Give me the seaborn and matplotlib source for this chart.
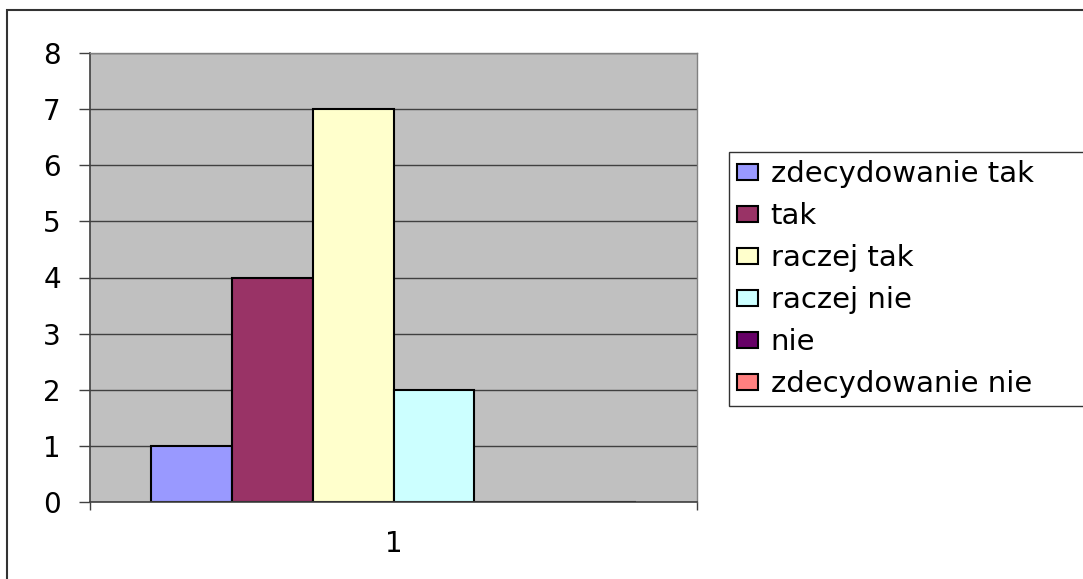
import matplotlib
matplotlib.use("Agg")
import matplotlib.pyplot as plt
import seaborn as sns
import pandas as pd
from matplotlib.patches import Rectangle

categories = ["1"]
series = ["zdecydowanie tak", "tak", "raczej tak", "raczej nie", "nie", "zdecydowanie nie"]
values = [1, 4, 7, 2, 0, 0]
colors = ["#9999FF", "#993366", "#FFFFCC", "#CCFFFF", "#660066", "#FF8080"]
yticks = [0, 1, 2, 3, 4, 5, 6, 7, 8]

df = pd.DataFrame({"cat": categories * len(series), "series": series, "value": values})

sns.set_style("white")
plt.rcParams["font.family"] = ["DejaVu Sans"]
plt.rcParams["text.color"] = "black"
plt.rcParams["xtick.color"] = "black"
plt.rcParams["ytick.color"] = "black"

W, H = 1083, 579
fig = plt.figure(figsize=(W / 100, H / 100), dpi=100)
ax = fig.add_axes([90 / W, 1 - 502 / H, (697 - 90) / W, (502 - 53) / H])

sns.barplot(data=df, x="cat", y="value", hue="series", hue_order=series,
            palette=colors, ax=ax, width=0.8, edgecolor="black", linewidth=1.5,
            saturation=1, legend=True)

ax.set_facecolor("#C0C0C0")
ax.set_ylim(0, 8)
ax.set_xlim(-0.5, 0.5)
ax.set_yticks(yticks)
ax.set_yticklabels([str(t) for t in yticks])
ax.yaxis.grid(True, color="#404040", linewidth=1)
ax.set_axisbelow(True)
ax.set_xlabel("")
ax.set_ylabel("")

for s in ["top", "right"]:
    ax.spines[s].set_color("#808080")
    ax.spines[s].set_linewidth(1)
for s in ["left", "bottom"]:
    ax.spines[s].set_color("#404040")
    ax.spines[s].set_linewidth(1.2)

ax.tick_params(axis="y", direction="out", length=8, width=1, color="#404040",
               labelcolor="black", labelsize=20, pad=13, left=True)
ax.set_xticks([0])
ax.set_xticklabels(categories)
ax.tick_params(axis="x", which="major", length=0, labelsize=20, pad=20,
               labelcolor="black")
ax.set_xticks([-0.5, 0.5], minor=True)
ax.tick_params(axis="x", which="minor", direction="out", length=6, width=1,
               color="#404040", bottom=True)

leg = ax.legend(loc="upper left",
                bbox_to_anchor=(729 / W, 1 - 152 / H, 400 / W, 0.0),
                bbox_transform=fig.transFigure, mode="expand",
                frameon=True, fancybox=False, fontsize=21,
                handlelength=0.7, handleheight=0.45, handletextpad=0.45,
                labelspacing=0.48, borderpad=0.28, borderaxespad=0)
leg.get_frame().set_edgecolor("black")
leg.get_frame().set_linewidth(1)
for t in leg.get_texts():
    t.set_color("black")
for h in leg.legend_handles:
    h.set_edgecolor("black")
    h.set_linewidth(1.5)

fig.patches.append(Rectangle((7 / W, -0.05), 1.1, 1 - 10 / H + 0.05,
                             transform=fig.transFigure, fill=False,
                             edgecolor="#333333", linewidth=1.5))

fig.savefig("out.png", dpi=100)
